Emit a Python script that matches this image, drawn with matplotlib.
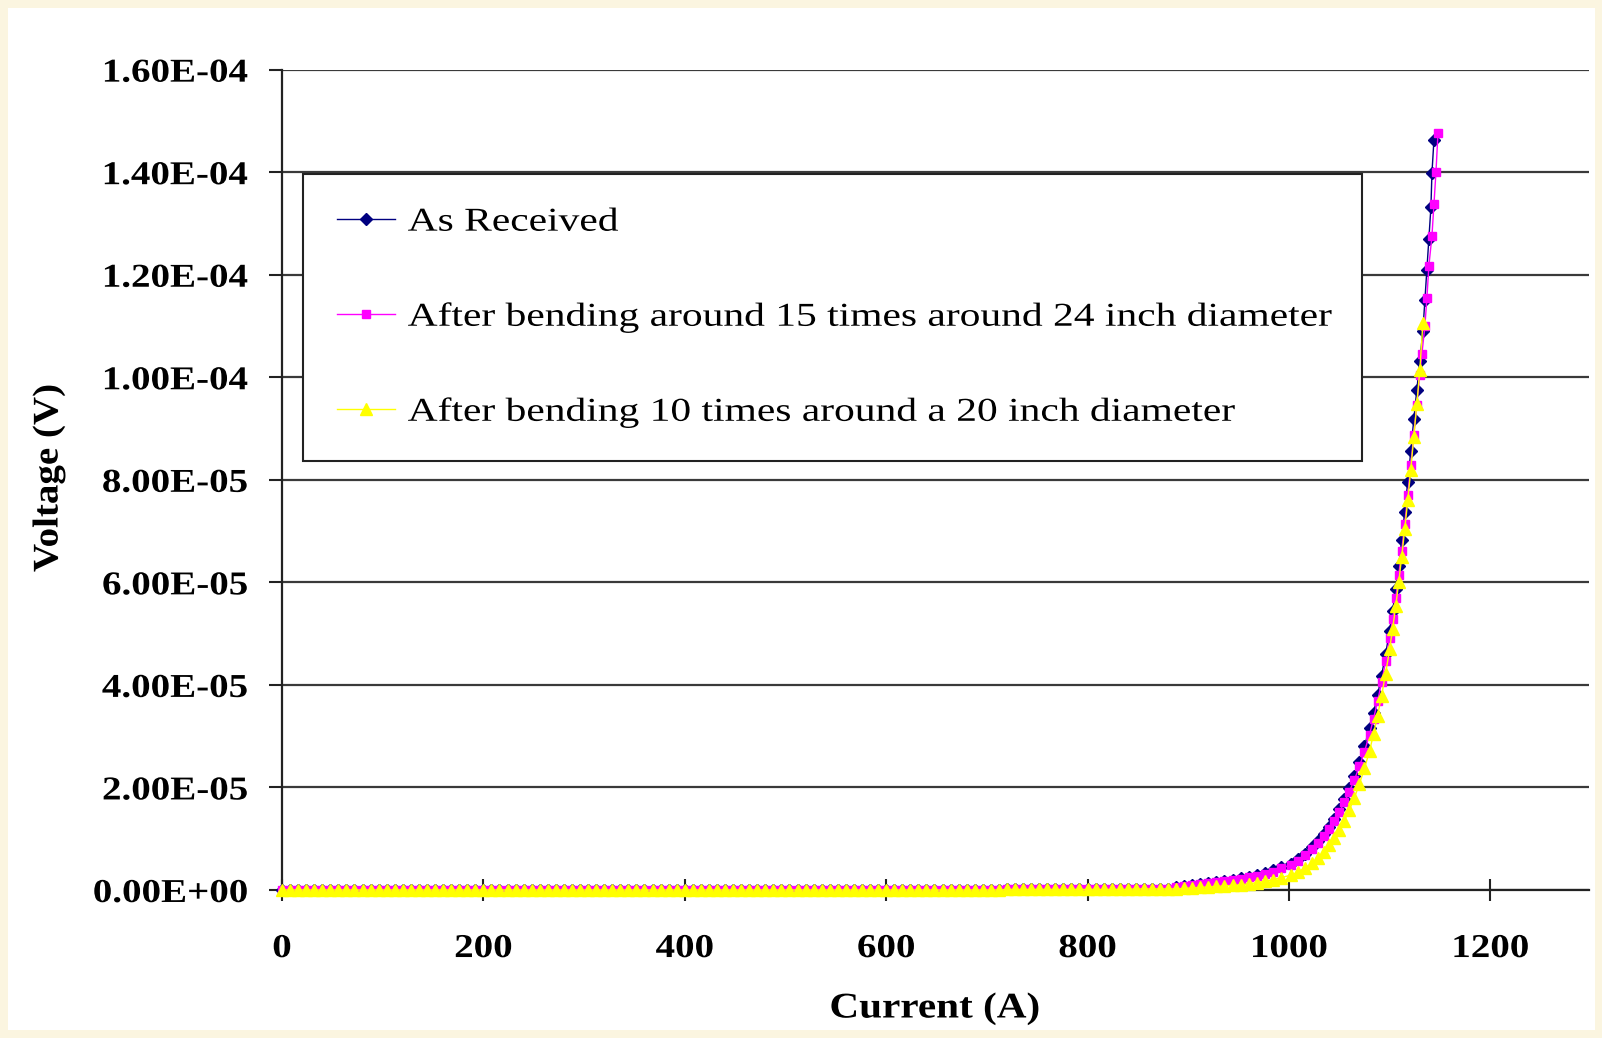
import matplotlib.pyplot as plt
from matplotlib import patheffects
from matplotlib.patches import Rectangle
from matplotlib.ticker import FuncFormatter, MultipleLocator
from matplotlib.transforms import Affine2D

# current sweep shared by all three runs below the knee (A)
current_flat = [
    0, 8, 16, 24, 32, 40, 48, 56, 64, 72,
    80, 88, 96, 104, 112, 120, 128, 136, 144, 152,
    160, 168, 176, 184, 192, 200, 208, 216, 224, 232,
    240, 248, 256, 264, 272, 280, 288, 296, 304, 312,
    320, 328, 336, 344, 352, 360, 368, 376, 384, 392,
    400, 408, 416, 424, 432, 440, 448, 456, 464, 472,
    480, 488, 496, 504, 512, 520, 528, 536, 544, 552,
    560, 568, 576, 584, 592, 600, 608, 616, 624, 632,
    640, 648, 656, 664, 672, 680, 688, 696, 704, 712,
    720, 728, 736, 744, 752, 760, 768, 776, 784, 792,
    800, 808, 816, 824, 832, 840, 848, 856, 864, 872,
    880,
]
# voltage in microvolts
volt_flat_uv = [
    0.0, 0.0, 0.0, 0.0, 0.0, 0.0, 0.0, 0.0, 0.0, 0.0,
    0.0, 0.0, 0.0, 0.0, 0.0, 0.0, 0.0, 0.0, 0.0, 0.0,
    0.0, 0.0, 0.0, 0.0, 0.0, 0.0, 0.0, 0.0, 0.0, 0.0,
    0.0, 0.0, 0.0, 0.0, 0.0, 0.0, 0.0, 0.0, 0.0, 0.0,
    0.0, 0.0, 0.0, 0.0, 0.0, 0.0, 0.0, 0.0, 0.0, 0.0,
    0.0, 0.0, 0.0, 0.0, 0.0, 0.0, 0.0, 0.0, 0.0, 0.0,
    0.0, 0.0, 0.0, 0.0, 0.0, 0.0, 0.0, 0.0, 0.0, 0.0,
    0.0, 0.0, 0.0, 0.0, 0.0, 0.0, 0.0, 0.0, 0.0, 0.0,
    0.0, 0.0, 0.0, 0.0, 0.0, 0.0, 0.0, 0.0, 0.0, 0.0,
    0.1, 0.1, 0.1, 0.1, 0.1, 0.1, 0.1, 0.1, 0.1, 0.1,
    0.1, 0.1, 0.1, 0.1, 0.1, 0.1, 0.2, 0.2, 0.2, 0.2,
    0.2,
]

as_received_i = [888, 896, 904, 912, 920, 928, 936, 944, 952, 960,
                 968, 976, 984, 992, 1002, 1009, 1016, 1023, 1029, 1035,
                 1040, 1045, 1050, 1055, 1060, 1065, 1070, 1075, 1080, 1084,
                 1088, 1092, 1096, 1100, 1103, 1106, 1109, 1112, 1115, 1118,
                 1121, 1124, 1127, 1130, 1133, 1135, 1137, 1139, 1141, 1142,
                 1144]
as_received_uv = [0.6, 0.8, 1.0, 1.2, 1.4, 1.6, 1.8, 2.0, 2.3, 2.6,
                  2.9, 3.3, 3.8, 4.4, 5.1, 6.0, 7.1, 8.3, 9.6, 11.0,
                  12.3, 13.9, 15.8, 17.7, 19.9, 22.3, 25.0, 28.1, 31.5, 34.6,
                  38.0, 41.8, 46.0, 50.6, 54.5, 58.7, 63.2, 68.3, 73.8, 79.6,
                  85.6, 91.8, 97.6, 103.2, 109.0, 115.0, 121.0, 127.0, 133.2, 139.8,
                  146.3]

bend24_i = [888, 896, 904, 912, 920, 928, 936, 944, 952, 960,
            968, 976, 984, 992, 1002, 1009, 1016, 1023, 1029, 1035,
            1040, 1045, 1050, 1055, 1060, 1065, 1070, 1075, 1080, 1084,
            1088, 1092, 1096, 1100, 1103, 1106, 1109, 1112, 1115, 1118,
            1121, 1124, 1127, 1130, 1132, 1135, 1137, 1139, 1142, 1144,
            1146, 1148]
bend24_uv = [0.5, 0.7, 0.9, 1.1, 1.3, 1.5, 1.7, 1.9, 2.2, 2.5,
             2.8, 3.2, 3.6, 4.2, 4.9, 5.7, 6.8, 7.9, 9.2, 10.6,
             11.9, 13.4, 15.2, 17.1, 19.2, 21.5, 24.1, 27.0, 30.3, 33.4,
             36.8, 40.5, 44.6, 49.2, 52.8, 56.9, 61.4, 66.2, 71.4, 77.0,
             82.9, 88.8, 94.6, 100.4, 104.5, 110.0, 115.5, 121.8, 127.5, 133.8,
             140.0, 147.6]

bend20_i = [888, 896, 904, 912, 920, 928, 936, 944, 952, 960,
            968, 976, 984, 992, 1002, 1009, 1016, 1023, 1029, 1035,
            1040, 1045, 1050, 1055, 1060, 1065, 1070, 1075, 1080, 1084,
            1088, 1092, 1096, 1100, 1103, 1106, 1109, 1112, 1115, 1118,
            1121, 1124, 1127, 1130, 1133]
bend20_uv = [0.2, 0.3, 0.4, 0.5, 0.6, 0.7, 0.8, 0.9, 1.0, 1.2,
             1.4, 1.7, 2.0, 2.4, 2.9, 3.5, 4.3, 5.2, 6.3, 7.5,
             8.7, 10.1, 11.7, 13.5, 15.6, 18.0, 20.7, 23.7, 27.1, 30.4,
             34.0, 37.9, 42.2, 47.0, 51.0, 55.3, 60.0, 65.0, 70.4, 76.0,
             82.0, 88.3, 94.8, 101.5, 110.5]

labels = ["As Received",
          "After bending around 15 times around 24 inch diameter",
          "After bending 10 times around a 20 inch diameter"]
x_ticks = [0, 200, 400, 600, 800, 1000, 1200]

serif = "Liberation Serif"


class Stretch(patheffects.AbstractPathEffect):
    # the original text is wider than Times at the same height
    def __init__(self, factor, anchor="center", axis="x"):
        super().__init__()
        self.factor, self.anchor, self.axis = factor, anchor, axis

    def draw_path(self, renderer, gc, tpath, affine, rgbFace=None):
        ext = tpath.get_extents(affine)
        lo, hi = (ext.x0, ext.x1) if self.axis == "x" else (ext.y0, ext.y1)
        c = {"left": lo, "center": (lo + hi) / 2, "right": hi}[self.anchor]
        if self.axis == "x":
            extra = Affine2D().translate(-c, 0).scale(self.factor, 1).translate(c, 0)
        else:
            extra = Affine2D().translate(0, -c).scale(1, self.factor).translate(0, c)
        renderer.draw_path(gc, tpath, affine + extra, rgbFace)


fig = plt.figure(figsize=(16.02, 10.38), dpi=100)
fig.patch.set_facecolor("#FBF5E0")
fig.patches.append(Rectangle((8 / 1602, 8 / 1038), 1587 / 1602, 1022 / 1038,
                             transform=fig.transFigure, facecolor="white",
                             edgecolor="none", zorder=-1))

ax = fig.add_axes([0.176, 0.1426, 0.8159, 0.7903])
ax.set_facecolor("white")

runs = [
    (current_flat + as_received_i, volt_flat_uv + as_received_uv, "#000080", "D", 6),
    (current_flat + bend24_i, volt_flat_uv + bend24_uv, "#FF00FF", "s", 5.5),
    (current_flat + bend20_i, volt_flat_uv + bend20_uv, "#FFFF00", "^", 8),
]
for (xs, ys, color, marker, ms), label in zip(runs, labels):
    ax.plot(xs, [v * 1e-6 for v in ys], color=color, lw=1.0, marker=marker,
            ms=ms, mec=color, mfc=color, label=label, clip_on=False, zorder=3)

ax.set_xlim(0, 1298)
ax.set_ylim(0, 1.6e-4)
ax.set_xticks(x_ticks)
ax.yaxis.set_major_locator(MultipleLocator(2e-5))
ax.yaxis.set_major_formatter(FuncFormatter(lambda v, p: f"{v:.2E}"))

ax.yaxis.grid(True, color="#3a3a3a", lw=1.6)
ax.set_axisbelow(True)
for s in ["top", "right"]:
    ax.spines[s].set_visible(False)
for s in ["left", "bottom"]:
    ax.spines[s].set_linewidth(1.6)
    ax.spines[s].set_color("#222222")

ax.tick_params(axis="y", direction="out", length=9.5, width=1.5, pad=15,
               colors="#222222", labelcolor="black")
ax.tick_params(axis="x", direction="inout", length=16, width=1.5, pad=23,
               colors="#222222", labelcolor="black")
for t in ax.get_xticklabels():
    t.set_fontfamily(serif)
    t.set_fontweight("bold")
    t.set_fontsize(24)
    t.set_path_effects([Stretch(1.17, "center")])
for t in ax.get_yticklabels():
    t.set_fontfamily(serif)
    t.set_fontweight("bold")
    t.set_fontsize(24)
    t.set_path_effects([Stretch(1.17, "right")])

leg = ax.legend(loc="upper left", bbox_to_anchor=(0.0164, 0.531, 0.81, 0.342),
                mode="expand", borderaxespad=0, prop=dict(family=serif, size=24),
                fancybox=False, framealpha=1, edgecolor="#222222",
                borderpad=1.0, labelspacing=1.92, handlelength=1.75,
                handletextpad=0.38, numpoints=1)
leg.get_frame().set_linewidth(1.5)
leg.set_zorder(5)
for t in leg.get_texts():
    t.set_path_effects([Stretch(1.245, "left")])

fig.text(49 / 1602, 1 - 478 / 1038, "Voltage (V)", rotation=90, ha="center",
         va="center", family=serif, fontweight="bold", fontsize=26,
         path_effects=[Stretch(1.08, "center", "y")])
fig.text(935 / 1602, 1 - 1009 / 1038, "Current (A)", ha="center", va="center",
         family=serif, fontweight="bold", fontsize=26,
         path_effects=[Stretch(1.14, "center")])

fig.savefig("out.png", dpi=100, facecolor=fig.get_facecolor())
